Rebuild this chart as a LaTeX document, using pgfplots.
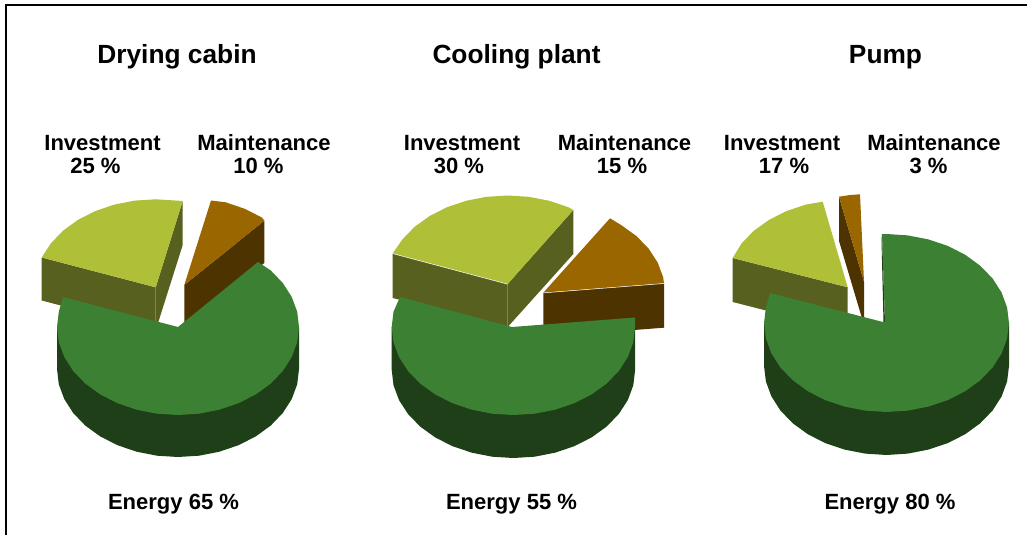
\documentclass[border=0pt]{standalone}
\usepackage{pgfplots}
\pgfplotsset{compat=1.18}
\usepackage{fontspec}
\setmainfont{Liberation Sans}
\definecolor{gT}{HTML}{3C8033}
\definecolor{gS}{HTML}{1E3F17}
\definecolor{oT}{HTML}{B0BF38}
\definecolor{oS}{HTML}{586020}
\definecolor{bT}{HTML}{996600}
\definecolor{bS}{HTML}{4D3300}
\newcommand{\ttl}[1]{\fontsize{26.4}{28}\selectfont\bfseries #1}
\newcommand{\lbl}[1]{\fontsize{22.1}{24.5}\selectfont\bfseries #1}
\begin{document}
\begin{tikzpicture}
\begin{axis}[
  scale only axis, width=1027bp, height=535bp,
  xmin=0, xmax=1027, ymin=0, ymax=535, y dir=reverse,
  hide axis, clip=true,
  every axis plot/.style={draw=none}
]
\path (axis cs:0,0) rectangle (axis cs:1027,535);
% frame
\addplot[draw=black, line width=2bp, forget plot] coordinates {(6,535) (6,5) (1027,5)};
% ---------- Drying cabin ----------
\addplot[fill=oS] coordinates {(41.7,257.5) (155.7,287.3) (155.7,330.3) (41.7,300.5)} --cycle;
\addplot[fill=oS] coordinates {(155.7,287.3) (182.7,201) (182.7,245) (155.7,330.3)} --cycle;
\addplot[fill=oT] coordinates {(155.7,287.3) (41.7,257.5) (50.9,243.3) (63,230.7) (77.9,219.9) (95.2,211.1) (114.3,204.6) (134.7,200.6) (155.7,199.3) (176.7,200.6) (182.7,201)} --cycle;
\addplot[fill=bS] coordinates {(184.3,285) (264.3,220.7) (264.3,263) (184.3,327)} --cycle;
\addplot[fill=bT] coordinates {(184.3,285) (211,200.5) (225.7,202.3) (244.8,208.8) (262.1,217.6) (264.3,220.7)} --cycle;
\addplot[fill=gS] coordinates {(299,327) (299,369) (297.2,384.3) (291.7,399.1) (282.8,413) (270.7,425.6) (255.8,436.4) (238.5,445.2) (219.4,451.7) (199,455.7) (178,457) (157,455.7) (136.6,451.7) (117.5,445.2) (100.2,436.4) (85.3,425.6) (73.2,413) (64.3,399.1) (58.8,384.3) (57,369) (57,327)} --cycle;
\addplot[fill=gT] coordinates {(178,327) (258,262) (270.7,270.4) (282.8,283) (291.7,296.9) (297.2,311.7) (299,327) (297.2,342.3) (291.7,357.1) (282.8,371) (270.7,383.6) (255.8,394.4) (238.5,403.2) (219.4,409.7) (199,413.7) (178,415) (157,413.7) (136.6,409.7) (117.5,403.2) (100.2,394.4) (85.3,383.6) (73.2,371) (64.3,357.1) (58.8,342.3) (57,327) (58.8,311.7) (63,297)} --cycle;
% ---------- Cooling plant ----------
\addplot[fill=oS] coordinates {(392.7,253.4) (507.7,284) (507.7,327) (392.7,298)} --cycle;
\addplot[fill=oS] coordinates {(507.7,284) (573.3,210) (573.3,254) (507.7,327)} --cycle;
\addplot[fill=oT] coordinates {(507.7,284) (392.7,253.4) (402.3,239.5) (414.5,226.9) (429.5,216.1) (446.8,207.3) (466.1,200.8) (486.5,196.8) (507.7,195.5) (528.9,196.8) (549.3,200.8) (568.6,207.3) (573.3,210)} --cycle;
\addplot[draw=white, line width=0.5bp, forget plot] coordinates {(392.7,253.6) (507.7,284.2)};
\addplot[fill=bS] coordinates {(543.3,292.7) (664,283.3) (664,327.7) (543.3,337)} --cycle;
\addplot[fill=bT] coordinates {(543.3,292.7) (610,218.3) (621.5,225.3) (636.5,236.1) (648.7,248.7) (657.7,262.6) (663.2,277.4) (664,283.3)} --cycle;
\addplot[draw=white, line width=0.5bp, forget plot] coordinates {(543.3,292.9) (664,283.5)};
\addplot[fill=gS] coordinates {(635.1,327) (635.1,370) (633.3,385.3) (627.8,400.1) (618.8,414) (606.6,426.6) (591.6,437.4) (574.3,446.2) (555,452.7) (534.6,456.7) (513.4,458) (492.2,456.7) (471.8,452.7) (452.5,446.2) (435.2,437.4) (420.2,426.6) (408,414) (399,400.1) (393.5,385.3) (391.7,370) (391.7,327)} --cycle;
\addplot[fill=gT] coordinates {(512,327) (635,317.5) (635.1,327) (633.3,342.3) (627.8,357.1) (618.8,371) (606.6,383.6) (591.6,394.4) (574.3,403.2) (555,409.7) (534.6,413.7) (513.4,415) (492.2,413.7) (471.8,409.7) (452.5,403.2) (435.2,394.4) (420.2,383.6) (408,371) (399,357.1) (393.5,342.3) (391.7,327) (393.5,311.7) (400,297)} --cycle;
% ---------- Pump ----------
\addplot[fill=oS] coordinates {(732.7,258) (847.7,287.3) (847.7,331.3) (732.7,302)} --cycle;
\addplot[fill=oT] coordinates {(847.7,287.3) (732.7,258) (741.6,243.3) (753.9,230.7) (769,219.9) (786.4,211.1) (805.8,204.6) (822.7,201.7)} --cycle;
\addplot[fill=bS] coordinates {(839,196.7) (864,281.7) (864,325) (839,241)} --cycle;
\addplot[fill=bT] coordinates {(839,196.7) (850,195) (860,194.3) (864,281.7)} --cycle;
\addplot[fill=gS] coordinates {(882,234) (885,322.5) (883.5,322.5) (881.5,240)} --cycle;
\addplot[fill=gS] coordinates {(1009,323) (1009,366) (1007.1,381.5) (1001.6,396.4) (992.6,410.5) (980.3,423.2) (965.2,434.2) (947.8,443.1) (928.4,449.6) (907.8,453.6) (886.5,455) (865.2,453.6) (844.6,449.6) (825.2,443.1) (807.8,434.2) (792.7,423.2) (780.4,410.5) (771.4,396.4) (765.9,381.5) (764,366) (764,323)} --cycle;
\addplot[fill=gT] coordinates {(885,322.5) (882,234) (886.5,234) (907.8,235.4) (928.4,239.4) (947.8,245.9) (965.2,254.8) (980.3,265.8) (992.6,278.5) (1001.6,292.6) (1007.1,307.5) (1009,323) (1007.1,338.5) (1001.6,353.4) (992.6,367.5) (980.3,380.2) (965.2,391.2) (947.8,400.1) (928.4,406.6) (907.8,410.6) (886.5,412) (865.2,410.6) (844.6,406.6) (825.2,400.1) (807.8,391.2) (792.7,380.2) (780.4,367.5) (771.4,353.4) (765.9,338.5) (764,323) (765.9,307.5) (770,293)} --cycle;
% ---------- Text ----------
\node[anchor=base, inner sep=0pt] at (axis cs:177,64) {\ttl{Drying cabin}};
\node[anchor=base, inner sep=0pt] at (axis cs:516.5,64) {\ttl{Cooling plant}};
\node[anchor=base, inner sep=0pt] at (axis cs:885.5,64) {\ttl{Pump}};
\node[anchor=base, inner sep=0pt] at (axis cs:102.5,150) {\lbl{Investment}};
\node[anchor=base, inner sep=0pt] at (axis cs:95.5,173) {\lbl{25 \%}};
\node[anchor=base, inner sep=0pt] at (axis cs:264,150) {\lbl{Maintenance}};
\node[anchor=base, inner sep=0pt] at (axis cs:258.5,173) {\lbl{10 \%}};
\node[anchor=base, inner sep=0pt] at (axis cs:462,150) {\lbl{Investment}};
\node[anchor=base, inner sep=0pt] at (axis cs:459,173) {\lbl{30 \%}};
\node[anchor=base, inner sep=0pt] at (axis cs:624.5,150) {\lbl{Maintenance}};
\node[anchor=base, inner sep=0pt] at (axis cs:622,173) {\lbl{15 \%}};
\node[anchor=base, inner sep=0pt] at (axis cs:782,150) {\lbl{Investment}};
\node[anchor=base, inner sep=0pt] at (axis cs:784,173) {\lbl{17 \%}};
\node[anchor=base, inner sep=0pt] at (axis cs:934,150) {\lbl{Maintenance}};
\node[anchor=base, inner sep=0pt] at (axis cs:928.5,173) {\lbl{3 \%}};
\node[anchor=base, inner sep=0pt] at (axis cs:173.5,509) {\lbl{Energy 65 \%}};
\node[anchor=base, inner sep=0pt] at (axis cs:511.5,509) {\lbl{Energy 55 \%}};
\node[anchor=base, inner sep=0pt] at (axis cs:890,509) {\lbl{Energy 80 \%}};
\end{axis}
\end{tikzpicture}
\end{document}
